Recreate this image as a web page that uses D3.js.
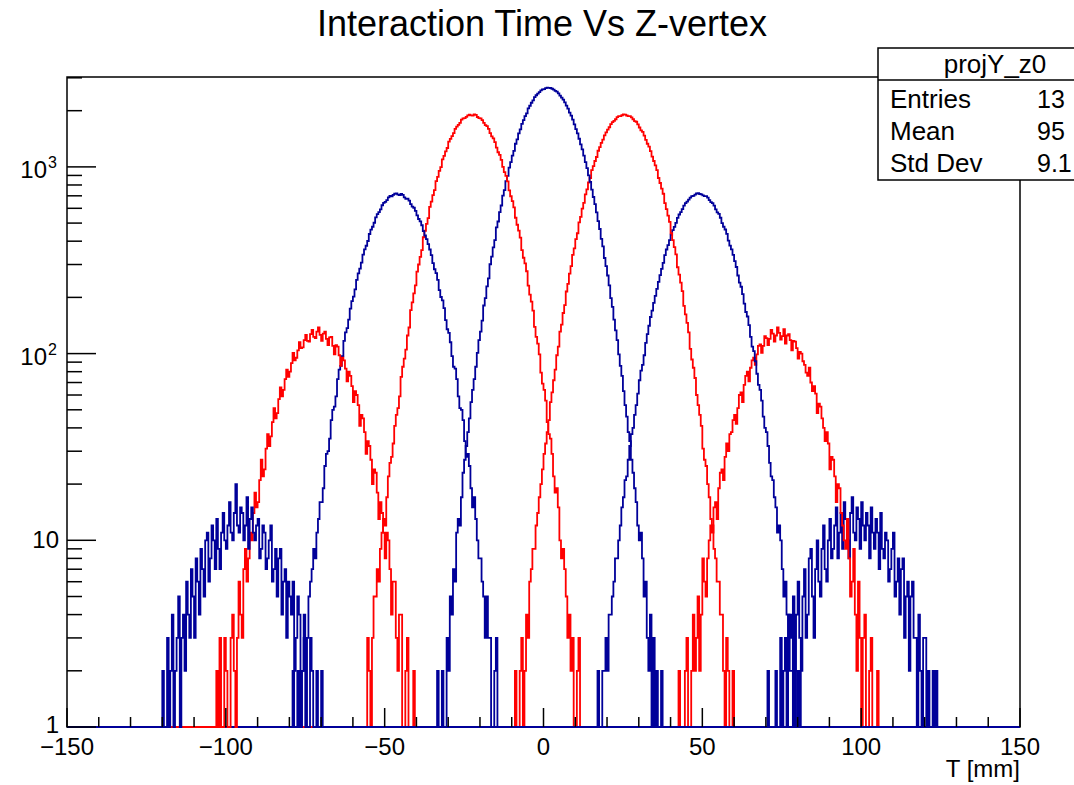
<!DOCTYPE html>
<html>
<head>
<meta charset="utf-8">
<script src="https://cdn.jsdelivr.net/npm/d3@7"></script>
<style>
  body { margin: 0; background: #fff; }
  svg { display: block; font-family: "Liberation Sans", Arial, Helvetica, sans-serif; }
</style>
</head>
<body>
<svg id="canvas" width="1074" height="785"></svg>
<script>
// counts per 0.5 mm bin. each histogram only keeps the bins
// around its peak, starting at the given bin edge (mm); everything else is 0
let binWidth = 0.5

let z0Start = 68
let z0Counts = [1,0, 0,0, 0,2, 1,0, 0,1, 2,0, 1,3, 0,2, 3,1, 4,2, 2,5, 1,4, 6,3, 2,5, 7,3, 4,8,
  9,5, 3,7, 10,6, 5,9, 12,7, 6,10, 13,8, 9,12, 15,8, 11,14, 9,16, 13,10, 8,14, 17,11, 10,15,
  13,9, 16,12, 10,14, 12,8, 15,11, 9,13, 11,7, 14,9, 8,11, 10,6, 7,9, 11,5, 6,8, 4,7, 8,3,
  5,6, 2,5, 6,3, 3,1, 4,2, 1,3, 3,0, 2,1, 0,2, 1,2]

let z1Start = 41
let z1Counts = [0,1, 0,2, 1,0, 0,2, 3,1, 0,2, 4,2, 3,5, 2,4, 8,6, 5,8, 10,12, 11,15, 16,13, 19,23,
  24,21, 28,33, 30,37, 38,44, 47,42, 51,60, 62,55, 68,76, 80,71, 84,92, 95,87, 99,110, 112,101,
  110,124, 121,111, 120,134, 128,116, 125,138,
  129,119, 124,135, 113,125, 127,118, 104,117, 116,107, 94,102, 100,91, 87,79, 76,84, 70,63,
  67,61, 48,54, 52,45, 40,34, 38,33, 24,28, 27,22, 16,20, 19,14, 12,10, 9,13, 8,5, 6,9, 4,2,
  6,3, 1,3, 4,1, 0,2, 3,1, 0,1, 2,0, 0,1]

let z2Start = 13
let z2Counts = [0,1, 0,0, 1,0, 0,1, 2,1, 0,2, 2,3, 2,4, 4,5, 6,8, 8,10, 12,15, 17,21, 22,27,
  32,37, 40,47, 53,61, 72,81, 87,98, 114,127, 141,157, 170,187, 204,222, 242,263, 284,306,
  337,361, 381,405, 433,458, 477,501, 533,556, 572,594, 620,640, 652,668, 685,697, 700,710, 720,723,
  716,712, 703,697, 697,685, 663,647, 640,620, 592,570, 560,534, 500,478, 462,438, 403,379,
  362,338, 313,291, 262,240, 228,208, 185,167, 158,142, 123,109, 103,91, 78,68, 64,56, 46,40,
  38,32, 26,22, 21,17, 15,11, 12,10, 7,5, 6,4, 3,4, 3,1, 2,2, 0,2, 1,1, 0,1, 1,0, 1,0]

let z3Start = -11
let z3Counts = [0,1, 0,0, 2,0, 1,2, 3,1, 2,4, 3,6, 7,9, 9,12, 14,17, 20,24, 29,33, 38,44, 55,62,
  72,82, 98,109, 131,143, 165,182, 215,236, 268,294, 338,366, 410,441, 505,540, 597,642, 712,758,
  825,872, 960,1010, 1075,1130, 1220,1275, 1345,1398, 1475,1530, 1585,1630, 1695,1738, 1765,1800,
  1848,1871, 1872,1890,
  1910,1906,
  1885,1868, 1870,1840, 1800,1760, 1745,1690, 1625,1570, 1540,1470, 1395,1330, 1285,1215,
  1135,1075, 1020,960, 872,820, 765,718, 640,594, 548,508, 441,405, 372,340, 290,265, 240,216,
  180,162, 146,130, 106,93, 84,74, 60,53, 47,41, 31,27, 25,20, 17,13, 12,9, 8,6, 6,4, 4,2,
  1,3, 2,0, 1,2, 0,1, 1,0]

let z4Start = -35
let z4Counts = [1,0, 0,2, 1,0, 2,1, 0,3, 2,5, 4,7, 6,11, 13,12, 17,23, 27,32, 38,45, 55,64,
  73,85, 101,118, 131,150, 181,198, 229,253, 301,331, 371,405, 474,510, 572,621, 702,750,
  840,895, 990,1060, 1150,1218, 1330,1405, 1510,1588, 1700,1778, 1870,1935, 2060,2125,
  2205,2270, 2365,2420, 2470,2512, 2570,2598, 2610,2642,
  2655,2648,
  2645,2622, 2590,2556, 2530,2478, 2410,2350, 2290,2215, 2130,2050, 1955,1880, 1790,1690,
  1595,1510, 1415,1320, 1240,1150, 1060,985, 900,832, 755,690, 632,570, 512,465, 412,375,
  325,294, 262,232, 198,178, 152,133, 118,99, 86,76, 63,53, 46,38, 34,27, 23,19, 16,12,
  10,11, 8,5, 6,3, 2,4, 1,3, 0,2, 1,0, 2,0]

let z5Start = -59
let z5Counts = [1,0, 0,1, 1,0, 0,3, 2,1, 3,5, 5,7, 6,9, 11,13, 12,17, 22,26, 28,33, 41,47, 51,59,
  75,85, 94,105, 125,138, 171,188, 210,232, 275,300, 330,358, 420,455, 495,532, 610,652, 706,750,
  838,885, 952,998, 1098,1145, 1210,1262, 1365,1414, 1462,1518, 1600,1645, 1680,1721, 1790,1820,
  1825,1852, 1888,1902,
  1886,1881,
  1912,1898, 1850,1826, 1820,1782, 1720,1674, 1652,1598, 1518,1456, 1422,1358, 1268,1198,
  1160,1090, 1000,938, 895,837, 748,696, 655,607, 534,490, 456,418, 358,326, 304,276, 231,207,
  190,170, 139,123, 113,99, 79,69, 64,56, 43,37, 35,29, 22,18, 19,15, 10,8, 9,7, 5,3, 4,2,
  3,1, 0,2, 3,1, 0,1, 1,0]

let z6Start = -82
let z6Counts = [1,0, 0,1, 0,0, 2,0, 1,2, 0,2, 2,3, 1,3, 5,6, 7,9, 8,11, 13,16, 16,19, 25,29,
  30,35, 44,50, 52,59, 73,82, 86,97, 117,130, 137,152, 174,191, 202,221, 248,269, 285,307,
  339,362, 378,401, 437,461, 478,502, 536,559, 572,592, 623,642, 650,664, 686,700, 696,708, 718,721,
  711,707, 716,708, 687,675, 676,660, 632,612, 604,582, 550,526, 511,487, 453,429, 410,386,
  361,337, 305,283, 270,248, 219,201, 193,175, 151,135, 129,115, 97,85, 83,73, 59,51, 50,44,
  34,28, 29,25, 19,15, 17,13, 10,8, 8,6, 5,3, 5,3, 3,1, 1,2, 3,1, 0,1, 1,0, 0,1, 1,0]

let z7Start = -104
let z7Counts = [0,1, 2,0, 3,0, 1,3, 2,0, 1,3, 4,2, 1,3, 6,4, 3,7, 9,6, 8,11, 10,14, 18,15,
  16,21, 27,22, 24,31, 37,32, 36,43, 51,45, 48,57, 66,59, 64,73, 82,75, 80,89, 101,92, 95,104,
  115,107, 108,118, 126,117, 116,127, 134,123, 121,131,
  138,126, 117,128, 131,120, 111,122, 123,110, 99,111, 109,98, 86,95, 92,83, 71,80, 76,67,
  55,63, 60,53, 41,47, 45,38, 29,34, 32,27, 20,24, 23,18, 13,16, 14,11, 8,11, 10,7, 4,6, 6,3,
  2,4, 4,1, 0,2, 3,1, 1,0, 2,0, 0,1, 0,0]

let z8Start = -120
let z8Counts = [2,0, 1,3, 0,2, 4,1, 2,3, 5,0, 3,4, 2,6, 4,3, 7,5, 3,8, 6,4, 9,7, 5,10, 11,6,
  8,12, 10,7, 13,9, 7,11, 14,10, 9,12, 16,11, 10,14, 20,12, 11,15,
  14,10, 12,17, 9,13, 15,11, 10,12, 13,8, 9,12, 11,7, 8,10, 12,6, 7,9, 5,8, 9,4, 6,7, 3,6,
  5,4, 6,2, 3,5, 4,1, 2,4, 3,0, 1,3, 2,0, 0,2, 1,0, 2,0, 0,1, 1,0, 0,0, 1,0, 0,1]

let xMajorTicks = [-150, -100, -50, 0, 50, 100, 150]
let yMajorTicks = [1, 10, 100, 1000]

let statsLabels = ['Entries', 'Mean', 'Std Dev']
let statsValues = ['13', '95', '9.1']

let blue = '#000099'
let red = '#ff0000'

// drawn in this order, z0 first (its stats are shown in the box)
let histograms = [
  { start: z0Start, counts: z0Counts, color: blue },
  { start: z1Start, counts: z1Counts, color: red },
  { start: z2Start, counts: z2Counts, color: blue },
  { start: z3Start, counts: z3Counts, color: red },
  { start: z4Start, counts: z4Counts, color: blue },
  { start: z5Start, counts: z5Counts, color: red },
  { start: z6Start, counts: z6Counts, color: blue },
  { start: z7Start, counts: z7Counts, color: red },
  { start: z8Start, counts: z8Counts, color: blue }
]

let canvas = d3.select('#canvas')

let frameLeft = 67
let frameRight = 1020
let frameTop = 77
let frameBottom = 727

let xScale = d3.scaleLinear()
               .domain([-150, 150])
               .range([frameLeft, frameRight])

let yScale = d3.scaleLog()
               .domain([1, 3030])
               .range([frameBottom, frameTop])

// title
canvas.append('text')
      .attr('x', 542)
      .attr('y', 36)
      .attr('text-anchor', 'middle')
      .attr('font-size', 36)
      .text('Interaction Time Vs Z-vertex')

// frame
canvas.append('rect')
      .attr('x', frameLeft)
      .attr('y', frameTop)
      .attr('width', frameRight - frameLeft)
      .attr('height', frameBottom - frameTop)
      .attr('fill', 'none')
      .attr('stroke', '#000')
      .attr('stroke-width', 1.5)

// histograms, drawn as step outlines over the full range
let histLine = d3.line()
                 .x((p) => xScale(p[0]))
                 .y((p) => yScale(Math.max(p[1], 1)))
                 .curve(d3.curveStepAfter)

histograms.forEach((hist) => {
  let points = [[-150, 0]]
  hist.counts.forEach((count, i) => {
    points.push([hist.start + i * binWidth, count])
  })
  points.push([hist.start + hist.counts.length * binWidth, 0])
  points.push([150, 0])

  canvas.append('path')
        .attr('d', histLine(points))
        .attr('fill', 'none')
        .attr('stroke', hist.color)
        .attr('stroke-width', 1.8)
})

// x axis ticks (inside the frame)
let xAllTicks = d3.range(-150, 151, 10)
canvas.selectAll('.xtick')
      .data(xAllTicks)
      .enter()
      .append('line')
      .attr('class', 'xtick')
      .attr('x1', (v) => xScale(v))
      .attr('x2', (v) => xScale(v))
      .attr('y1', frameBottom)
      .attr('y2', (v) => xMajorTicks.includes(v) ? frameBottom - 19 : frameBottom - 10)
      .attr('stroke', '#000')
      .attr('stroke-width', 1.5)

canvas.selectAll('.xlabel')
      .data(xMajorTicks)
      .enter()
      .append('text')
      .attr('class', 'xlabel')
      .attr('x', (v) => xScale(v))
      .attr('y', 755)
      .attr('text-anchor', 'middle')
      .attr('font-size', 24)
      .text((v) => v < 0 ? '\u2212' + Math.abs(v) : v)

canvas.append('text')
      .attr('x', frameRight)
      .attr('y', 777)
      .attr('text-anchor', 'end')
      .attr('font-size', 24)
      .text('T [mm]')

// y axis ticks (log)
let yAllTicks = yScale.ticks()
canvas.selectAll('.ytick')
      .data(yAllTicks)
      .enter()
      .append('line')
      .attr('class', 'ytick')
      .attr('x1', frameLeft)
      .attr('x2', (v) => yMajorTicks.includes(v) ? frameLeft + 29 : frameLeft + 15)
      .attr('y1', (v) => yScale(v))
      .attr('y2', (v) => yScale(v))
      .attr('stroke', '#000')
      .attr('stroke-width', 1.5)

yMajorTicks.forEach((v) => {
  let power = Math.round(Math.log10(v))
  if (power < 2) {
    canvas.append('text')
          .attr('x', 59)
          .attr('y', yScale(v) + (v === 1 ? 6 : 8))
          .attr('text-anchor', 'end')
          .attr('font-size', 24)
          .text(v)
  } else {
    canvas.append('text')
          .attr('x', 47)
          .attr('y', yScale(v) + 11)
          .attr('text-anchor', 'end')
          .attr('font-size', 24)
          .text('10')
    canvas.append('text')
          .attr('x', 48)
          .attr('y', yScale(v) + 1)
          .attr('font-size', 16)
          .text(power)
  }
})

// stats box (runs off the right edge)
let statsBox = canvas.append('g')
statsBox.append('rect')
        .attr('x', 878)
        .attr('y', 48)
        .attr('width', 240)
        .attr('height', 132)
        .attr('fill', '#fff')
        .attr('stroke', '#000')
        .attr('stroke-width', 1.5)
statsBox.append('line')
        .attr('x1', 878)
        .attr('x2', 1118)
        .attr('y1', 80)
        .attr('y2', 80)
        .attr('stroke', '#000')
        .attr('stroke-width', 1.5)
statsBox.append('text')
        .attr('x', 995)
        .attr('y', 73)
        .attr('text-anchor', 'middle')
        .attr('font-size', 26)
        .text('projY_z0')
statsLabels.forEach((label, i) => {
  statsBox.append('text')
          .attr('x', 890)
          .attr('y', 108 + i * 32)
          .attr('font-size', 26)
          .text(label)
  statsBox.append('text')
          .attr('x', 1037)
          .attr('y', 108 + i * 32)
          .attr('font-size', 25)
          .text(statsValues[i])
})
</script>
</body>
</html>
